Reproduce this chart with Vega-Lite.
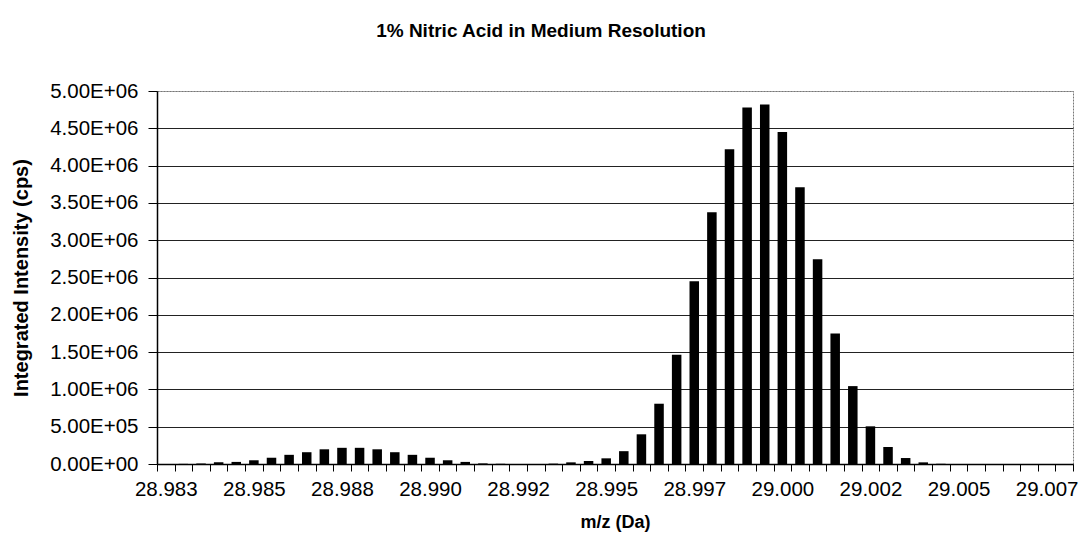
{
  "$schema": "https://vega.github.io/schema/vega-lite/v6.json",
  "width": 916,
  "height": 373,
  "autosize": {"type": "none"},
  "padding": {"left": 157, "top": 91, "right": 10, "bottom": 84},
  "background": "white",
  "config": {
    "font": "Liberation Sans",
    "view": {"stroke": "#777", "strokeDash": [2, 1], "strokeWidth": 1}
  },
  "title": {
    "text": "1% Nitric Acid in Medium Resolution",
    "font": "Liberation Sans",
    "fontSize": 19,
    "fontWeight": "bold",
    "color": "black",
    "anchor": "middle",
    "dx": -74,
    "offset": 40
  },
  "data": {
    "values": [
      {"mz": 28.98277, "intensity": 0},
      {"mz": 28.983254, "intensity": 2000},
      {"mz": 28.983738, "intensity": 6000},
      {"mz": 28.984222, "intensity": 22000},
      {"mz": 28.984706, "intensity": 28000},
      {"mz": 28.98519, "intensity": 50000},
      {"mz": 28.985674, "intensity": 84000},
      {"mz": 28.986158, "intensity": 123000},
      {"mz": 28.986642, "intensity": 158000},
      {"mz": 28.987126, "intensity": 197000},
      {"mz": 28.98761, "intensity": 217000},
      {"mz": 28.988094, "intensity": 217000},
      {"mz": 28.988578, "intensity": 197000},
      {"mz": 28.989062, "intensity": 158000},
      {"mz": 28.989546, "intensity": 123000},
      {"mz": 28.99003, "intensity": 84000},
      {"mz": 28.990514, "intensity": 50000},
      {"mz": 28.990998, "intensity": 28000},
      {"mz": 28.991482, "intensity": 8000},
      {"mz": 28.991966, "intensity": 3000},
      {"mz": 28.99245, "intensity": 0},
      {"mz": 28.992934, "intensity": 0},
      {"mz": 28.993418, "intensity": 5000},
      {"mz": 28.993902, "intensity": 22000},
      {"mz": 28.994386, "intensity": 40000},
      {"mz": 28.99487, "intensity": 76000},
      {"mz": 28.995354, "intensity": 172000},
      {"mz": 28.995838, "intensity": 398000},
      {"mz": 28.996322, "intensity": 808000},
      {"mz": 28.996806, "intensity": 1466000},
      {"mz": 28.99729, "intensity": 2450000},
      {"mz": 28.997774, "intensity": 3375000},
      {"mz": 28.998258, "intensity": 4220000},
      {"mz": 28.998742, "intensity": 4780000},
      {"mz": 28.999226, "intensity": 4820000},
      {"mz": 28.99971, "intensity": 4450000},
      {"mz": 29.000194, "intensity": 3710000},
      {"mz": 29.000678, "intensity": 2745000},
      {"mz": 29.001162, "intensity": 1750000},
      {"mz": 29.001646, "intensity": 1044000},
      {"mz": 29.00213, "intensity": 505000},
      {"mz": 29.002614, "intensity": 228000},
      {"mz": 29.003098, "intensity": 80000},
      {"mz": 29.003582, "intensity": 22000},
      {"mz": 29.004066, "intensity": 3000},
      {"mz": 29.00455, "intensity": 0},
      {"mz": 29.005034, "intensity": 0},
      {"mz": 29.005518, "intensity": 0},
      {"mz": 29.006002, "intensity": 0},
      {"mz": 29.006486, "intensity": 0},
      {"mz": 29.00697, "intensity": 0},
      {"mz": 29.007454, "intensity": 0}
    ]
  },
  "mark": {"type": "bar", "color": "black", "width": {"band": 0.54}},
  "encoding": {
    "x": {
      "field": "mz",
      "type": "ordinal",
      "sort": "ascending",
      "scale": {"paddingInner": 0, "paddingOuter": 0},
      "axis": {
        "title": "m/z (Da)",
        "titleFont": "Liberation Sans",
        "titleFontSize": 18,
        "titleFontWeight": "bold",
        "titleColor": "black",
        "titlePadding": 14,
        "labelAngle": 0,
        "labelFont": "Liberation Sans",
        "labelFontSize": 20.5,
        "labelColor": "black",
        "labelOverlap": false,
        "labelPadding": 8,
        "labelExpr": "abs(round((datum.value - 28.98277) / 0.000484)) % 5 === 0 ? format(datum.value, '.3f') : ''",
        "tickBand": "extent",
        "tickSize": 7,
        "tickColor": "black",
        "domainColor": "black",
        "domainWidth": 1.5,
        "grid": false
      }
    },
    "y": {
      "field": "intensity",
      "type": "quantitative",
      "scale": {"domain": [0, 5000000], "nice": false},
      "axis": {
        "title": "Integrated Intensity (cps)",
        "titleFont": "Liberation Sans",
        "titleFontSize": 20,
        "titleFontWeight": "bold",
        "titleColor": "black",
        "titlePadding": 18,
        "values": [0, 500000, 1000000, 1500000, 2000000, 2500000, 3000000, 3500000, 4000000, 4500000, 5000000],
        "labelExpr": "replace(upper(format(datum.value, '.2e')), 'E+', 'E+0')",
        "labelFont": "Liberation Sans",
        "labelFontSize": 20.5,
        "labelColor": "black",
        "labelPadding": 10,
        "tickSize": 9,
        "tickColor": "black",
        "domainColor": "black",
        "domainWidth": 1.5,
        "grid": true,
        "gridColor": {"condition": {"test": "datum.value >= 5000000", "value": "#777"}, "value": "#222"},
        "gridDash": {"condition": {"test": "datum.value >= 5000000", "value": [2, 1]}, "value": []},
        "gridWidth": 1
      }
    }
  }
}
